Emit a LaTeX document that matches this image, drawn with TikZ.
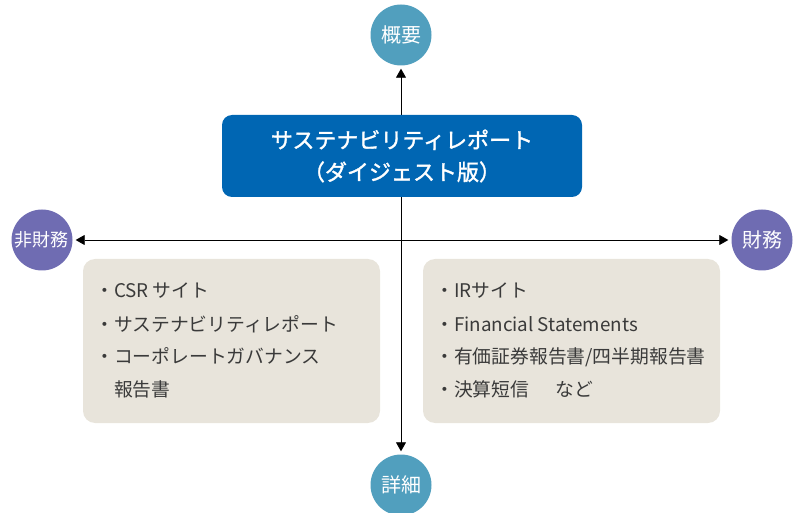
\documentclass[tikz,border=0pt]{standalone}
\usepackage{fontspec}
\setmainfont{Noto Sans CJK JP}
\newfontfamily\reportfont[FakeBold=1.5]{Noto Sans CJK JP}
\usetikzlibrary{arrows.meta}
\definecolor{axisteal}{HTML}{519FBE}
\definecolor{axispurple}{HTML}{6F6CB2}
\definecolor{reportblue}{HTML}{0066B3}
\definecolor{listgray}{HTML}{E8E4DB}
\definecolor{listtext}{HTML}{3A3A3A}
\tikzset{
  axiscirc/.style={circle, fill=#1, text=white, minimum size=61pt, inner sep=0pt},
  axisarrow/.style={thick, {Triangle[length=9pt,width=10pt]}-{Triangle[length=9pt,width=10pt]}, shorten <=3pt, shorten >=3pt},
  listbox/.style={fill=listgray, rounded corners=12pt},
  listline/.style={anchor=base west, inner sep=0pt, text=listtext, font=\fontsize{18.8}{22}\selectfont}
}
\begin{document}
\begin{tikzpicture}[x=1pt,y=-1pt] % 1pt per pixel, y downwards
        \useasboundingbox (0,0) rectangle (793,513);

        % Axis circles
        \node[axiscirc=axisteal, font=\fontsize{20}{24}\selectfont] (gaiyo) at (401,35) {概要};
        \node[axiscirc=axisteal, font=\fontsize{20}{24}\selectfont] (shosai) at (401,485) {詳細};
        \node[axiscirc=axispurple, font=\fontsize{18}{22}\selectfont] (hizaimu) at (42,240) {非財務};
        \node[axiscirc=axispurple, font=\fontsize{20}{24}\selectfont] (zaimu) at (762,240) {財務};

        % Axes
        \draw[axisarrow] (gaiyo) -- (shosai);
        \draw[axisarrow] (hizaimu) -- (zaimu);

        % Sustainability report box
        \fill[reportblue, rounded corners=10pt] (222,115) rectangle (582,197);
        \node[text=white, align=center, font=\reportfont\fontsize{22}{32}\selectfont] (report) at (402,156)
            {サステナビリティレポート\\（ダイジェスト版）};

        % Non-financial list
        \fill[listbox] (83,259) rectangle (380,423);
        \node[listline] (nf1) at (95,298) {・CSR サイト};
        \node[listline] (nf2) at (95,331) {・サステナビリティレポート};
        \node[listline] (nf3) at (95,363) {・コーポレートガバナンス};
        \node[listline] (nf4) at (113.8,396) {報告書};

        % Financial list
        \fill[listbox] (423,259) rectangle (720,423);
        \node[listline] (f1) at (435,298) {・IRサイト};
        \node[listline] (f2) at (435,331) {・Financial Statements};
        \node[listline] (f3) at (435,363) {・有価証券報告書/四半期報告書};
        \node[listline] (f4) at (435,396) {・決算短信\hspace{1.4em}など};
    \end{tikzpicture}
\end{document}
